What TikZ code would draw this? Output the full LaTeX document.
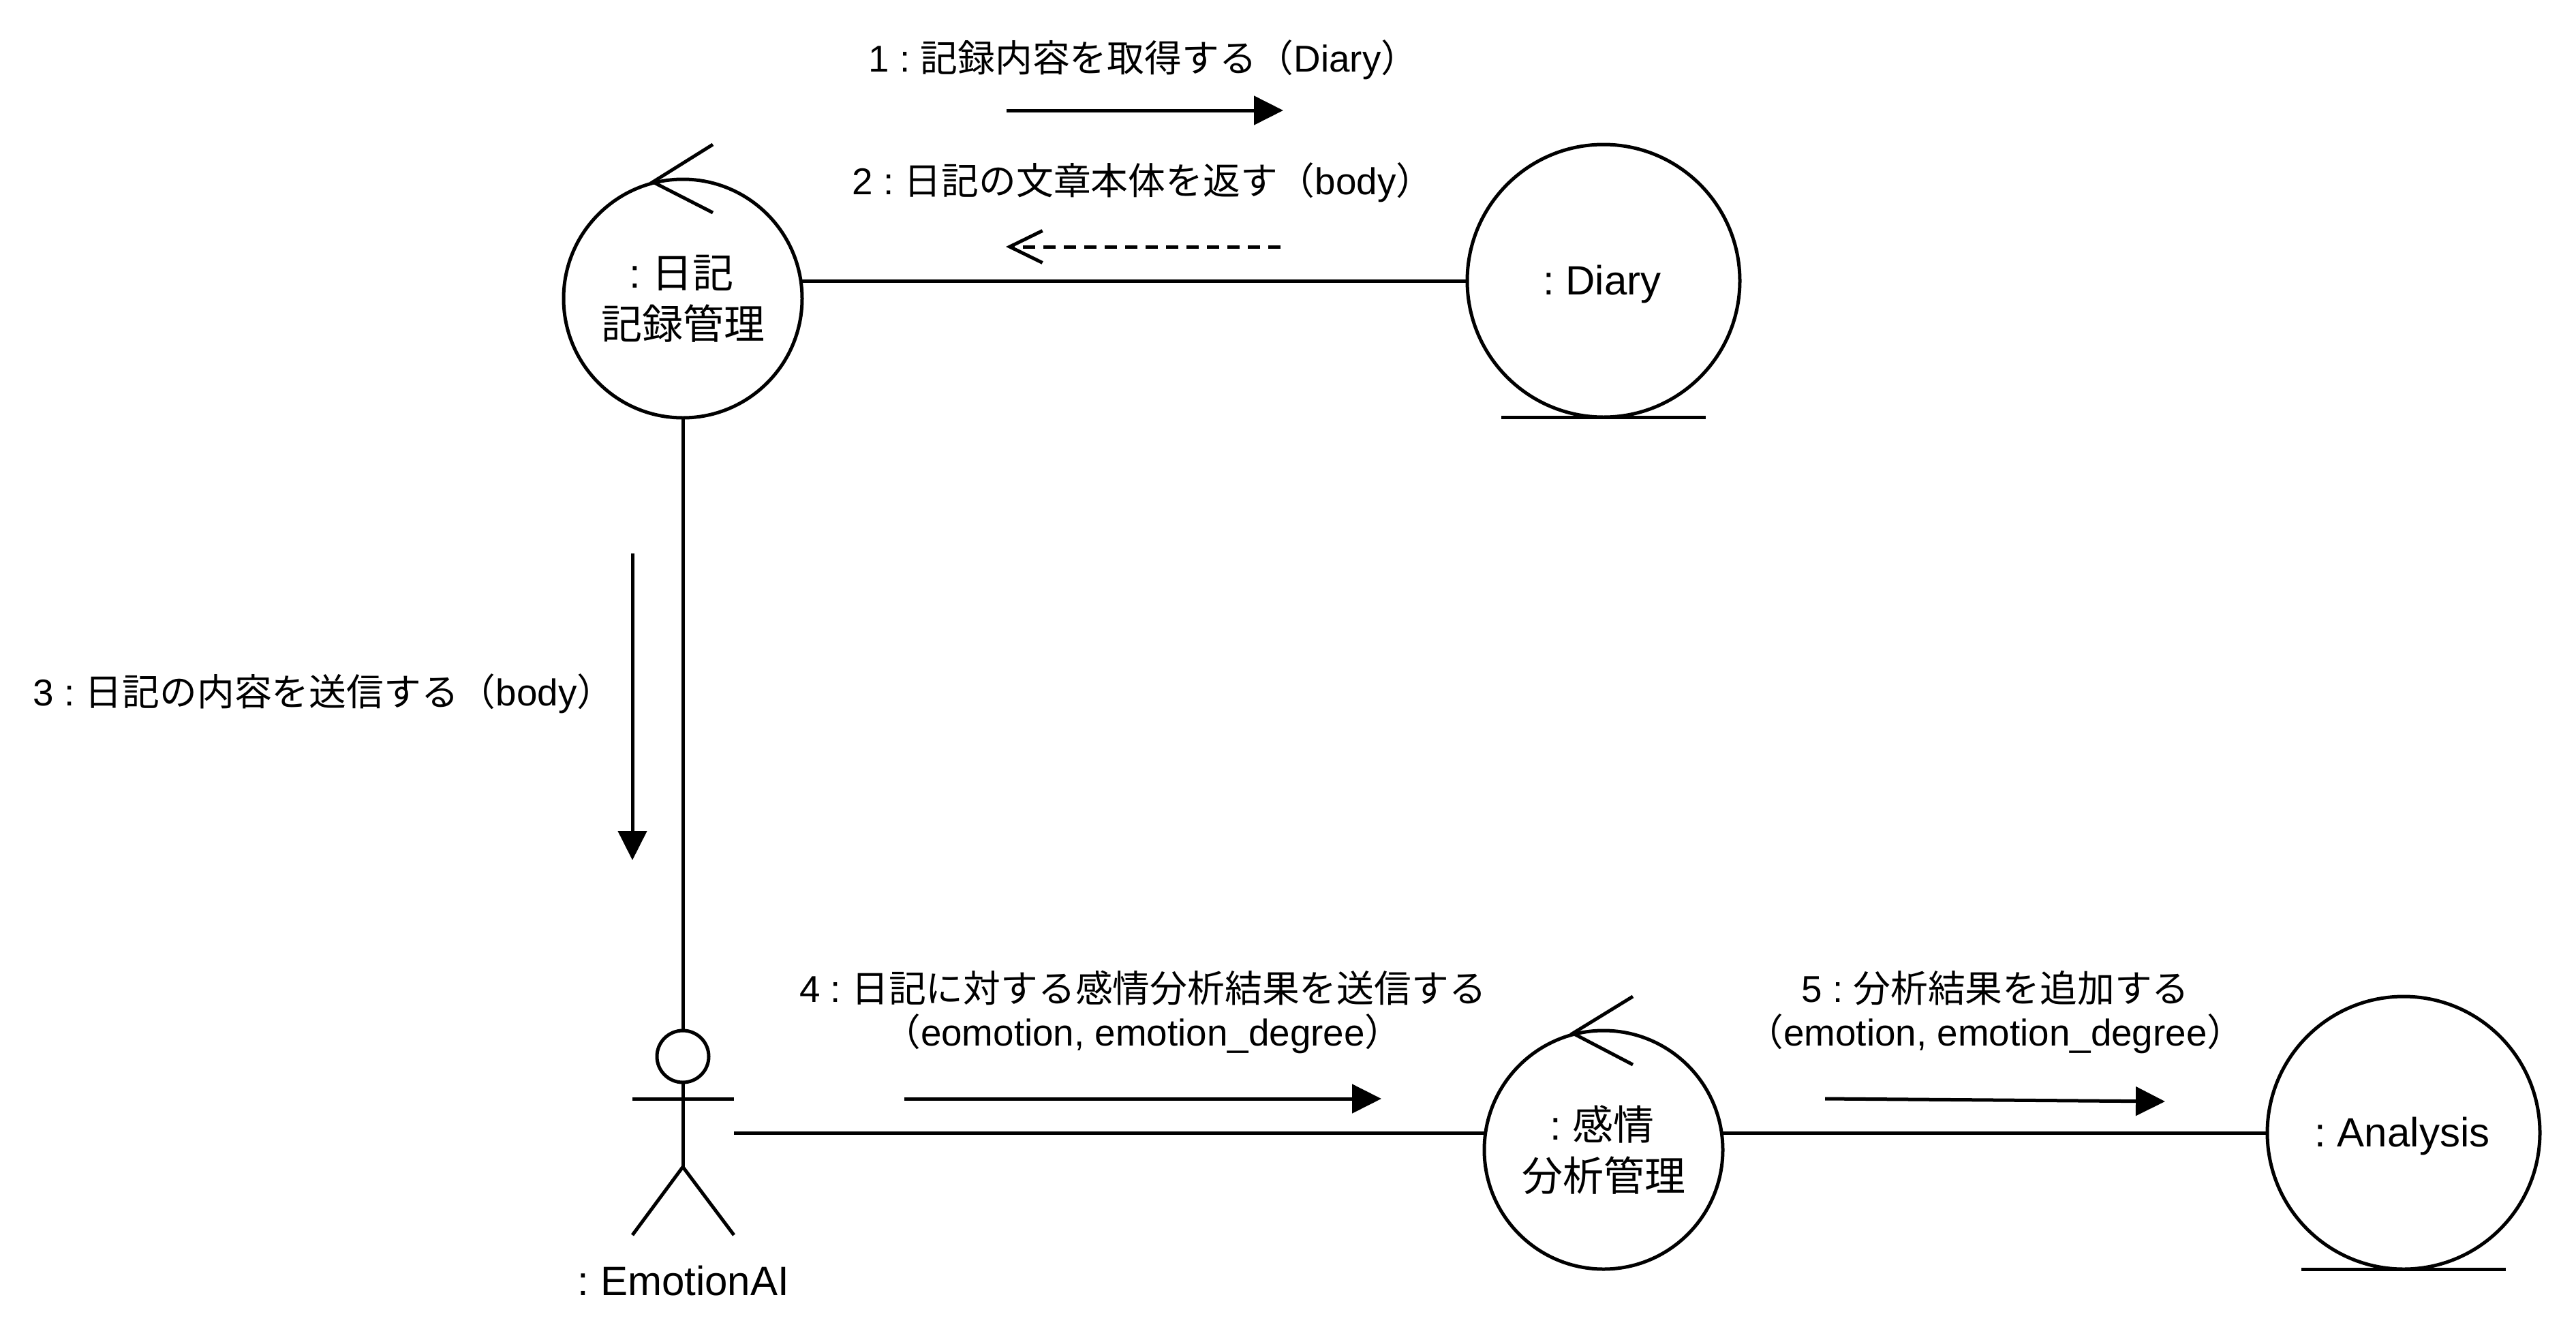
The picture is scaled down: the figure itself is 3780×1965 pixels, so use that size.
\documentclass[tikz,border=0pt]{standalone}
\usepackage{fontspec}
\setmainfont{Liberation Sans}
\newfontfamily\jpfont{Noto Sans CJK JP}
\newcommand{\J}[1]{{\jpfont #1}}
\usetikzlibrary{arrows.meta}
\frenchspacing
\tikzset{
  stroke/.style={line width=2.5pt,draw=black,miter limit=10},
  objlabel/.style={font=\fontsize{30}{37.5}\selectfont,align=center},
  msglabel/.style={font=\fontsize{27.4}{32.2}\selectfont,inner sep=0pt,outer sep=0pt,align=center},
  smallround/.style={circle,stroke,minimum size=175pt,inner sep=0pt,outer sep=0pt,objlabel},
  biground/.style={circle,stroke,minimum size=200pt,inner sep=0pt,outer sep=0pt,objlabel,text height=20pt,text depth=0pt},
  link/.style={stroke},
  solidmsg/.style={stroke,-{Triangle[length=21.5pt,width=21pt]}},
  returnmsg/.style={stroke,dash pattern=on 9pt off 6pt,-{Straight Barb[length=24pt,width=23.5pt,line width=2.5pt]}},
}
\begin{document}
\begin{tikzpicture}[x=0.5pt,y=-0.5pt]
\path[fill=white,use as bounding box] (0,0) rectangle (3780,1965);

% objects
\node[smallround] (ctrlA) at (1002,438) {\hspace*{-2pt}: \J{日記}\\\J{記録管理}};
\node[biground] (diary) at (2353,412) {\hspace*{-2pt}: Diary};
\node[smallround] (ctrlB) at (2353,1687) {\hspace*{-2pt}: \J{感情}\\\J{分析管理}};
\node[biground] (analysis) at (3527,1662) {\hspace*{-2pt}: Analysis};
\node[circle,stroke,minimum size=38pt,inner sep=0pt,outer sep=0pt] (head) at (1002,1550) {};
\node[objlabel,inner sep=0pt,anchor=base] (actorlabel) at (1003,1900) {: EmotionAI};

% control and entity decorations
\draw[stroke] (1046,212) -- (958,267) -- (1046,312);
\draw[stroke] (2396,1462) -- (2308,1516) -- (2396,1562);
\draw[stroke] (2203,612) -- (2503,612);
\draw[stroke] (3377,1862) -- (3677,1862);

% actor body
\coordinate (hip) at (1002,1712);
\coordinate (actorR) at (1077,1662);
\draw[stroke] (head.south) -- (hip);
\draw[stroke] (928,1612) -- (1077,1612);
\draw[stroke] (928,1812) -- (hip) -- (1077,1812);

% links
\draw[link] (ctrlA.east |- diary.west) -- (diary.west);
\draw[link] (ctrlA.south) -- (head.north);
\draw[link] (actorR) -- (ctrlB.west |- actorR);
\draw[link] (ctrlB.east |- analysis.west) -- (analysis.west);

% messages
\coordinate (m1a) at (1477,162); \coordinate (m1b) at (1883,162);
\coordinate (m2a) at (1879,362); \coordinate (m2b) at (1476,362);
\coordinate (m3a) at (928,812);  \coordinate (m3b) at (928,1262);
\coordinate (m4a) at (1327,1612); \coordinate (m4b) at (2027,1612);
\coordinate (m5a) at (2678,1612); \coordinate (m5b) at (3177,1616);
\draw[solidmsg] (m1a) -- (m1b);
\draw[returnmsg] (m2a) -- (m2b);
\draw[solidmsg] (m3a) -- (m3b);
\draw[solidmsg] (m4a) -- (m4b);
\draw[solidmsg] (m5a) -- (m5b);

% message labels
\node[msglabel,anchor=base] (t1) at (1678,105) {1 : \J{記録内容を取得する（}Diary\J{）}};
\node[msglabel,anchor=base] (t2) at (1677,285) {2 : \J{日記の文章本体を返す（}body\J{）}};
\node[msglabel,anchor=base] (t3) at (475,1035) {3 : \J{日記の内容を送信する（}body\J{）}};
\node[msglabel] (t4) at (1677,1485) {4 : \J{日記に対する感情分析結果を送信する}\\\J{（}eomotion, emotion\_degree\J{）}};
\node[msglabel] (t5) at (2928,1485) {5 : \J{分析結果を追加する}\\\J{（}emotion, emotion\_degree\J{）}};
\end{tikzpicture}
\end{document}
